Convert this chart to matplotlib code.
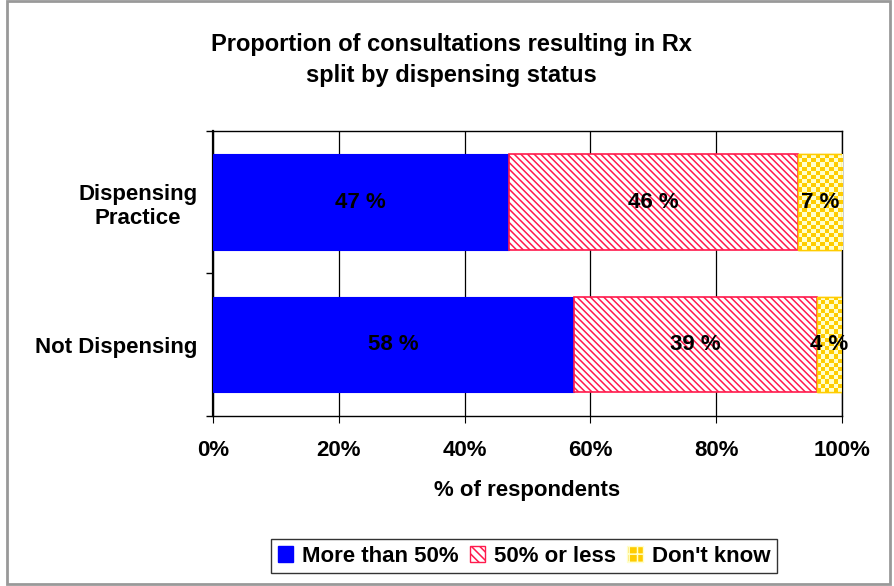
import numpy as np
import matplotlib.pyplot as plt
from matplotlib.patches import Patch, Rectangle
from matplotlib.colors import ListedColormap

plt.rcParams['font.family'] = ['Liberation Sans', 'DejaVu Sans']
plt.rcParams['font.weight'] = 'bold'
plt.rcParams['hatch.linewidth'] = 1.1

# data
groups = ['Not Dispensing', 'Dispensing\nPractice']
series = ['More than 50%', '50% or less', "Don't know"]
more_than_50 = [58, 47]
fifty_or_less = [39, 46]
dont_know = [4, 7]

blue = '#0000FF'
red = '#FF1A4D'
gold = '#FFCC00'
pale = '#FFFFCC'
stripes = '\\' * 5

fig = plt.figure(figsize=(8.94, 5.86), dpi=100)
ax = fig.add_axes([0.2383, 0.2901, 0.7036, 0.4864])

vals = np.array([more_than_50, fifty_or_less, dont_know], dtype=float)
shares = vals / vals.sum(axis=0)  # bars fill to 100%
ypos = np.arange(len(groups))
bar_h = 0.67

left = np.zeros(len(groups))
ax.barh(ypos, shares[0], left=left, height=bar_h,
        color=blue, edgecolor=blue, linewidth=0.8, zorder=3)
left += shares[0]
ax.barh(ypos, shares[1], left=left, height=bar_h,
        facecolor='white', edgecolor=red, hatch=stripes,
        linewidth=1.2, zorder=3)
left += shares[1]
bars_gold = ax.barh(ypos, shares[2], left=left, height=bar_h,
                    facecolor=gold, edgecolor=gold, linewidth=1.0, zorder=3)

# checkerboard fill for the "Don't know" segments
for b in bars_gold:
    x0, y0 = b.get_x(), b.get_y()
    w, h = b.get_width(), b.get_height()
    nx = max(1, int(round(w * 629 / 4.2)))
    ny = max(1, int(round(h * 142.5 / 4.2)))
    chk = (np.add.outer(np.arange(ny), np.arange(nx)) % 2).astype(float)
    im = ax.imshow(chk, cmap=ListedColormap([gold, pale]), extent=(x0, x0 + w, y0, y0 + h),
                   aspect='auto', interpolation='nearest', zorder=3.5)
    im.set_clip_path(b)
    ax.add_patch(Rectangle((x0, y0), w, h, fill=False, edgecolor=gold, linewidth=1.0, zorder=3.6))
ax.set_xlim(0, 1)
ax.set_ylim(-0.5, 1.5)

# value labels
for i in range(len(groups)):
    start = 0.0
    for k in range(3):
        ax.text(start + shares[k][i] / 2, ypos[i], f'{int(vals[k][i])} %',
                ha='center', va='center', fontsize=16, fontweight='bold',
                color='black', zorder=5)
        start += shares[k][i]

ticks = np.linspace(0, 1, 6)
ax.set_xticks(ticks)
ax.set_xticklabels([f'{int(round(t * 100))}%' for t in ticks], fontsize=16)
ax.set_yticks([-0.5, 0.5, 1.5])
ax.set_yticklabels([])
ax.set_yticks(ypos, minor=True)
ax.set_yticklabels(groups, minor=True, fontsize=16, ha='right', multialignment='center')
ax.tick_params(axis='y', which='minor', length=0, pad=11)
ax.tick_params(axis='y', which='major', length=5, direction='out', width=1)
ax.tick_params(axis='x', length=5, direction='out', pad=12)
ax.xaxis.grid(True, color='black', linewidth=0.9, zorder=0)
ax.set_axisbelow(True)
for s in ax.spines.values():
    s.set_color('black')
    s.set_linewidth(1.0)
ax.spines['left'].set_linewidth(1.6)

fig.text(0.505, 0.898, 'Proportion of consultations resulting in Rx\nsplit by dispensing status',
         ha='center', va='center', fontsize=17, fontweight='bold', linespacing=1.45)
ax.text(0.5, -(490 - 416) / 285, '% of respondents', transform=ax.transAxes,
        ha='center', va='center', fontsize=16, fontweight='bold')

handles = [Patch(facecolor=blue, edgecolor=blue),
           Patch(facecolor='white', edgecolor=red, hatch='\\\\\\\\'),
           Patch(facecolor=gold, edgecolor=pale, hatch='++')]
fig.legend(handles, series, loc='center', bbox_to_anchor=(0.586, 0.051), ncol=3,
           fontsize=16, frameon=True, fancybox=False, edgecolor='black',
           handlelength=0.7, handleheight=0.7, handletextpad=0.4, columnspacing=0.5,
           borderpad=0.3)

fig.add_artist(Rectangle((0.008, 0.004), 0.988, 0.994, transform=fig.transFigure,
                         fill=False, edgecolor='#999999', linewidth=2))

fig.savefig('out.png', dpi=100)
